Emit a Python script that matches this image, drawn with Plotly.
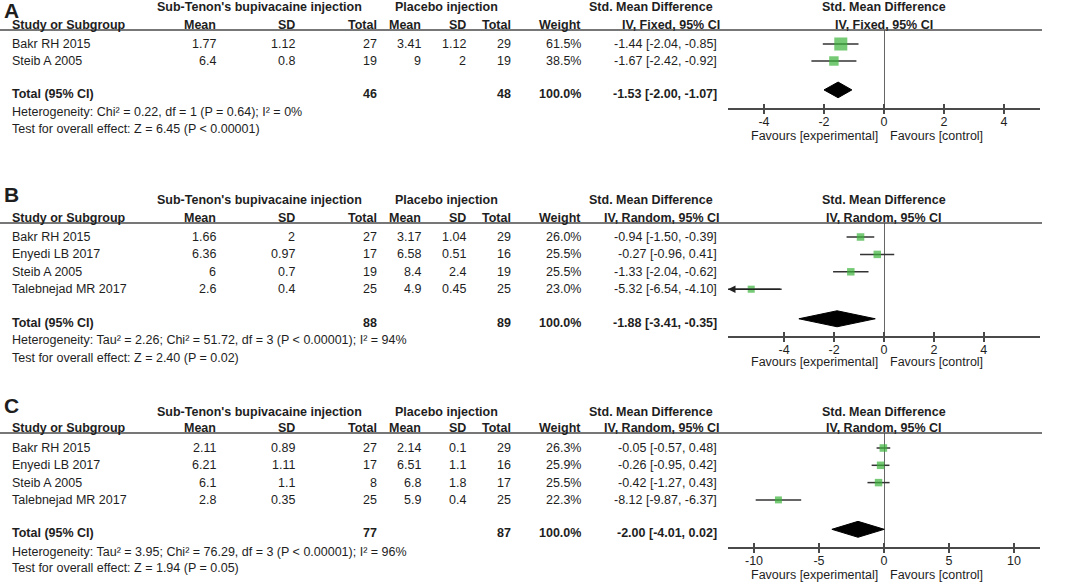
# Forest plots A/B/C - sub-Tenon's bupivacaine vs placebo
import plotly.graph_objects as go

W, H = 1067, 584
FONT = "Liberation Sans"
TXT = "#1e1e1e"
LINE = "#4a4a4a"
GREEN = "#3cb43c"

# ---- panel A data ----
A_studies = ["Bakr RH 2015", "Steib A 2005"]
A_exp_mean = [1.77, 6.4]
A_exp_sd = [1.12, 0.8]
A_exp_n = [27, 19]
A_ctl_mean = [3.41, 9]
A_ctl_sd = [1.12, 2]
A_ctl_n = [29, 19]
A_weight = [61.5, 38.5]
A_smd = [-1.44, -1.67]
A_lo = [-2.04, -2.42]
A_hi = [-0.85, -0.92]
A_total = [46, 48, 100.0, -1.53, -2.00, -1.07]
A_het = "Heterogeneity: Chi² = 0.22, df = 1 (P = 0.64); I² = 0%"
A_test = "Test for overall effect: Z = 6.45 (P < 0.00001)"
A_ticks = [-4, -2, 0, 2, 4]

# ---- panel B data ----
B_studies = ["Bakr RH 2015", "Enyedi LB 2017", "Steib A 2005", "Talebnejad MR 2017"]
B_exp_mean = [1.66, 6.36, 6, 2.6]
B_exp_sd = [2, 0.97, 0.7, 0.4]
B_exp_n = [27, 17, 19, 25]
B_ctl_mean = [3.17, 6.58, 8.4, 4.9]
B_ctl_sd = [1.04, 0.51, 2.4, 0.45]
B_ctl_n = [29, 16, 19, 25]
B_weight = [26.0, 25.5, 25.5, 23.0]
B_smd = [-0.94, -0.27, -1.33, -5.32]
B_lo = [-1.50, -0.96, -2.04, -6.54]
B_hi = [-0.39, 0.41, -0.62, -4.10]
B_total = [88, 89, 100.0, -1.88, -3.41, -0.35]
B_het = "Heterogeneity: Tau² = 2.26; Chi² = 51.72, df = 3 (P < 0.00001); I² = 94%"
B_test = "Test for overall effect: Z = 2.40 (P = 0.02)"
B_ticks = [-4, -2, 0, 2, 4]

# ---- panel C data ----
C_studies = ["Bakr RH 2015", "Enyedi LB 2017", "Steib A 2005", "Talebnejad MR 2017"]
C_exp_mean = [2.11, 6.21, 6.1, 2.8]
C_exp_sd = [0.89, 1.11, 1.1, 0.35]
C_exp_n = [27, 17, 8, 25]
C_ctl_mean = [2.14, 6.51, 6.8, 5.9]
C_ctl_sd = [0.1, 1.1, 1.8, 0.4]
C_ctl_n = [29, 16, 17, 25]
C_weight = [26.3, 25.9, 25.5, 22.3]
C_smd = [-0.05, -0.26, -0.42, -8.12]
C_lo = [-0.57, -0.95, -1.27, -9.87]
C_hi = [0.48, 0.42, 0.43, -6.37]
C_total = [77, 87, 100.0, -2.00, -4.01, 0.02]
C_het = "Heterogeneity: Tau² = 3.95; Chi² = 76.29, df = 3 (P < 0.00001); I² = 96%"
C_test = "Test for overall effect: Z = 1.94 (P = 0.05)"
C_ticks = [-10, -5, 0, 5, 10]

# pixel layout of each panel (rows in px from top)
pos = {
    "A": dict(label=10.5, group=7, head=25, line=30, row0=44, step=17.0, total=94,
              het=112, test=129, axis=108, fav=136, xr=5.2, method="Fixed"),
    "B": dict(label=194.5, group=200, head=218, line=223, row0=237, step=17.4, total=323,
              het=340, test=358, axis=336, fav=362, xr=6.25, method="Random"),
    "C": dict(label=405, group=412, head=428, line=433, row0=448, step=17.3, total=533,
              het=552, test=568, axis=547, fav=575, xr=12.0, method="Random"),
}
X0, X1 = 728, 1040  # plot area in px

panels = {
    "A": (A_studies, A_exp_mean, A_exp_sd, A_exp_n, A_ctl_mean, A_ctl_sd, A_ctl_n,
          A_weight, A_smd, A_lo, A_hi, A_total, A_het, A_test, A_ticks),
    "B": (B_studies, B_exp_mean, B_exp_sd, B_exp_n, B_ctl_mean, B_ctl_sd, B_ctl_n,
          B_weight, B_smd, B_lo, B_hi, B_total, B_het, B_test, B_ticks),
    "C": (C_studies, C_exp_mean, C_exp_sd, C_exp_n, C_ctl_mean, C_ctl_sd, C_ctl_n,
          C_weight, C_smd, C_lo, C_hi, C_total, C_het, C_test, C_ticks),
}

fig = go.Figure()
annotations = []
shapes = []


def text(x, y, s, anchor="left", bold=False, size=12.5):
    annotations.append(dict(
        x=x / W, y=1 - y / H, xref="paper", yref="paper", text=f"<b>{s}</b>" if bold else s,
        showarrow=False, xanchor=anchor, yanchor="middle", borderpad=0,
        font=dict(family=FONT, size=size, color=TXT)))


for k, (name, p) in enumerate(pos.items(), start=1):
    (studies, em, es, en, cm, cs, cn, wt, smd, lo, hi, tot, het, test, ticks) = panels[name]
    xa = "x" if k == 1 else f"x{k}"
    ya = "y" if k == 1 else f"y{k}"
    n = len(studies)

    # left-hand table
    text(3, p["label"], name, bold=True, size=21)
    text(259, p["group"], "Sub-Tenon's bupivacaine injection", "center", True)
    text(446, p["group"], "Placebo injection", "center", True)
    text(714, p["group"], "Std. Mean Difference", "right", True)
    text(884, p["group"], "Std. Mean Difference", "center", True)
    heads = [(11, "Study or Subgroup", "left"), (217, "Mean", "right"), (296, "SD", "right"),
             (378, "Total", "right"), (422, "Mean", "right"), (467, "SD", "right"),
             (512, "Total", "right"), (582, "Weight", "right"),
             (721, f"IV, {p['method']}, 95% CI", "right"),
             (884, f"IV, {p['method']}, 95% CI", "center")]
    for hx, hs, ha in heads:
        text(hx, p["head"], hs, ha, True)
    shapes.append(dict(type="line", xref="paper", yref="paper", x0=0, x1=1042 / W,
                       y0=1 - p["line"] / H, y1=1 - p["line"] / H,
                       line=dict(color=LINE, width=1.5)))

    for i in range(n):
        ry = p["row0"] + i * p["step"]
        text(11, ry, studies[i])
        text(217, ry, f"{em[i]:g}", "right")
        text(296, ry, f"{es[i]:g}", "right")
        text(378, ry, f"{en[i]}", "right")
        text(422, ry, f"{cm[i]:g}", "right")
        text(467, ry, f"{cs[i]:g}", "right")
        text(512, ry, f"{cn[i]}", "right")
        text(582, ry, f"{wt[i]:.1f}%", "right")
        text(718, ry, f"{smd[i]:.2f} [{lo[i]:.2f}, {hi[i]:.2f}]", "right")

    text(11, p["total"], "Total (95% CI)", bold=True)
    text(378, p["total"], f"{tot[0]}", "right", True)
    text(512, p["total"], f"{tot[1]}", "right", True)
    text(582, p["total"], f"{tot[2]:.1f}%", "right", True)
    text(718, p["total"], f"{tot[3]:.2f} [{tot[4]:.2f}, {tot[5]:.2f}]", "right", True)
    text(11, p["het"], het)
    text(11, p["test"], test)
    text(879, p["fav"], "Favours [experimental]", "right")
    text(889, p["fav"], "Favours [control]", "left")

    # forest plot
    rows = list(range(n))
    cx, cy = [], []
    for i in rows:
        cx += [lo[i], hi[i], None]
        cy += [i, i, None]
    fig.add_trace(go.Scatter(x=cx, y=cy, mode="lines", xaxis=xa, yaxis=ya,
                             line=dict(color="#333333", width=1.5), hoverinfo="skip"))
    fig.add_trace(go.Scatter(x=smd, y=rows, mode="markers", xaxis=xa, yaxis=ya,
                             marker=dict(symbol="square", color=GREEN,
                                         size=[3.5 + 0.155 * w for w in wt],
                                         line=dict(width=0))))
    d = n + 0.7
    h = 0.46
    fig.add_trace(go.Scatter(x=[tot[4], tot[3], tot[5], tot[3], tot[4]],
                             y=[d, d - h, d, d + h, d], mode="lines", fill="toself",
                             fillcolor="black", line=dict(color="black", width=1),
                             xaxis=xa, yaxis=ya, hoverinfo="skip"))
    for i in rows:
        if lo[i] < -p["xr"]:
            annotations.append(dict(x=-p["xr"], y=i, xref=xa, yref=ya, ax=hi[i], ay=i,
                                    axref=xa, ayref=ya, text="", showarrow=True,
                                    arrowhead=2, arrowsize=1, arrowwidth=1.5,
                                    arrowcolor="#222"))

    y_lo = (p["axis"] - p["row0"]) / p["step"]
    y_hi = (p["line"] - p["row0"]) / p["step"]
    fig.update_layout(**{
        ("xaxis" if k == 1 else f"xaxis{k}"): dict(
            domain=[X0 / W, X1 / W], anchor=ya, range=[-p["xr"], p["xr"]],
            tickvals=ticks, ticktext=[str(t) for t in ticks], ticks="outside",
            ticklen=4, tickwidth=1.5, tickcolor=LINE, ticklabelstandoff=-3,
            minor=dict(ticks="inside", tickvals=ticks, ticklen=4, tickwidth=1.5,
                       tickcolor=LINE, showgrid=False),
            showline=True, linecolor=LINE,
            linewidth=1.5, showgrid=False, zeroline=True, zerolinecolor="#666666",
            zerolinewidth=1.2, fixedrange=True,
            tickfont=dict(family=FONT, size=12.5, color=TXT)),
        ("yaxis" if k == 1 else f"yaxis{k}"): dict(
            domain=[1 - p["axis"] / H, 1 - p["line"] / H], anchor=xa,
            range=[y_lo, y_hi], visible=False, fixedrange=True),
    })

fig.update_layout(
    width=W, height=H, margin=dict(l=0, r=0, t=0, b=0),
    paper_bgcolor="white", plot_bgcolor="white", showlegend=False,
    annotations=annotations, shapes=shapes,
    font=dict(family=FONT, color=TXT),
)

# the page body has a default 8px margin; drop it so the figure fills the window
fig.write_html("out.html", config={"displayModeBar": False},
               post_script="document.body.style.margin='0';")
